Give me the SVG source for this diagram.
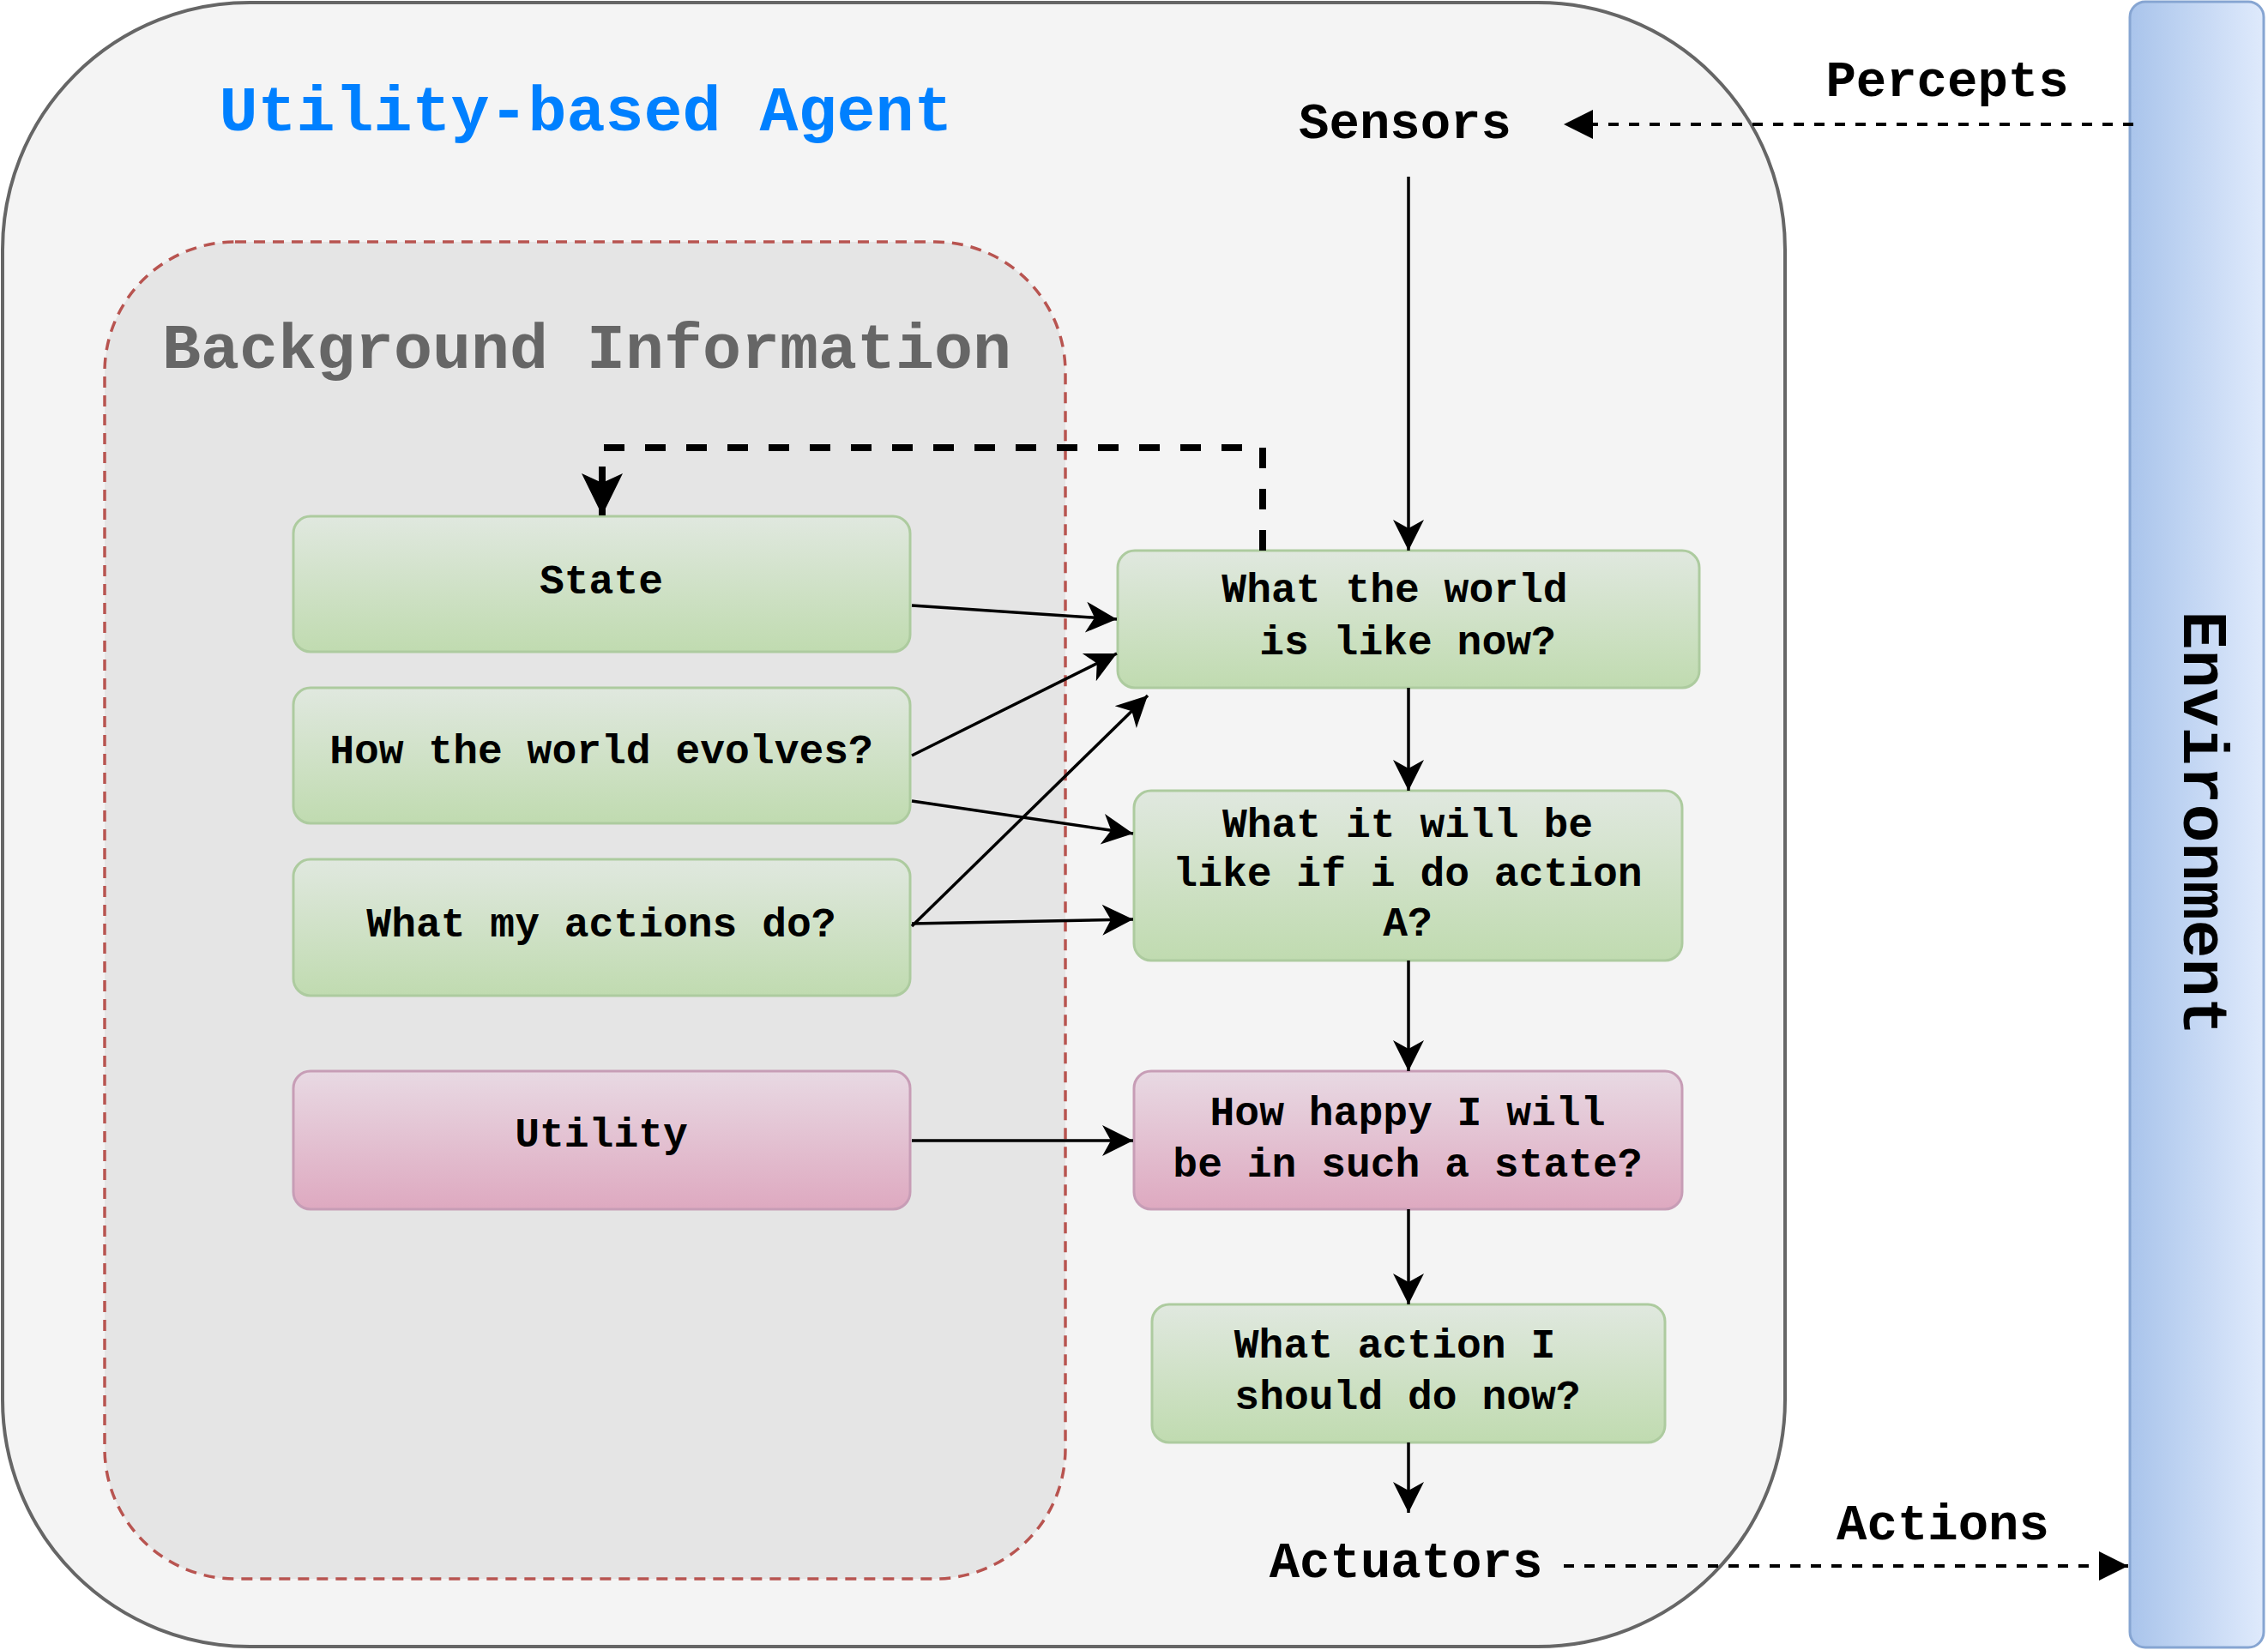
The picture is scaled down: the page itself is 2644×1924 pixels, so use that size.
<svg xmlns="http://www.w3.org/2000/svg" width="2644" height="1924" viewBox="0 0 2644 1924">
<style>
text{font-family:"Liberation Mono","DejaVu Sans Mono",monospace;font-weight:bold;text-anchor:middle;fill:#000}
.title{font-size:75px}
.lbl{font-size:59px}
.nt{font-size:48px}
.gnode{fill:url(#gGreen);stroke:#adcb9f;stroke-width:3}
.pnode{fill:url(#gPink);stroke:#c79db6;stroke-width:3}
.conn{fill:none;stroke:#000;stroke-width:3.5;marker-end:url(#arr)}
</style>
<defs>
<linearGradient id="gGreen" x1="0" y1="0" x2="0" y2="1"><stop offset="0" stop-color="#e0e8df"/><stop offset="1" stop-color="#c0dbb0"/></linearGradient>
<linearGradient id="gPink" x1="0" y1="0" x2="0" y2="1"><stop offset="0" stop-color="#e8d9e3"/><stop offset="1" stop-color="#dea9c0"/></linearGradient>
<linearGradient id="gEnv" x1="0" y1="0" x2="1" y2="0"><stop offset="0" stop-color="#a9c4eb"/><stop offset="1" stop-color="#dfeafc"/></linearGradient>
<marker id="arr" markerUnits="userSpaceOnUse" orient="auto" refX="0" refY="0" markerWidth="40" markerHeight="40" overflow="visible"><path d="M0,0 L-36,-18 L-26,0 L-36,18 Z" fill="#000"/></marker>
<marker id="arrBig" markerUnits="userSpaceOnUse" orient="auto" refX="0" refY="0" markerWidth="50" markerHeight="50" overflow="visible"><path d="M0,0 L-49,-24 L-38,0 L-49,24 Z" fill="#000"/></marker>
<marker id="tri" markerUnits="userSpaceOnUse" orient="auto" refX="0" refY="0" markerWidth="40" markerHeight="40" overflow="visible"><path d="M0,0 L-34,-17 L-34,17 Z" fill="#000"/></marker>
</defs>
<rect width="2644" height="1924" fill="#fff"/>
<g id="agent">
<rect x="3" y="3" width="2078" height="1917" rx="288" ry="288" fill="#f4f4f4" stroke="#666" stroke-width="4"/>
<text class="title" x="683" y="152" style="fill:#0080ff">Utility-based Agent</text>
</g>
<g id="background">
<rect x="122" y="282" width="1120" height="1559" rx="152" ry="152" fill="#e5e5e5" stroke="#b85450" stroke-width="3.5" stroke-dasharray="13 9"/>
<text class="title" x="684" y="429" style="fill:#666">Background Information</text>
</g>
<g id="environment">
<rect x="2483" y="2" width="156" height="1919" rx="18" ry="18" fill="url(#gEnv)" stroke="#86a5d2" stroke-width="3"/>
<text class="title" transform="translate(2546,960) rotate(90)">Environment</text>
</g>
<g id="sensors"><text class="lbl" x="1638" y="161">Sensors</text></g>
<g id="percepts"><text class="lbl" x="2270" y="112">Percepts</text></g>
<g id="actuators"><text class="lbl" x="1639" y="1839">Actuators</text></g>
<g id="actions"><text class="lbl" x="2265" y="1795">Actions</text></g>
<g id="state">
<rect class="gnode" x="342" y="602" width="719" height="158" rx="20"/>
<text class="nt" x="701" y="692">State</text>
</g>
<g id="evolves">
<rect class="gnode" x="342" y="802" width="719" height="158" rx="20"/>
<text class="nt" x="701" y="890">How the world evolves?</text>
</g>
<g id="myactions">
<rect class="gnode" x="342" y="1002" width="719" height="159" rx="20"/>
<text class="nt" x="701" y="1092">What my actions do?</text>
</g>
<g id="utility">
<rect class="pnode" x="342" y="1249" width="719" height="161" rx="20"/>
<text class="nt" x="701" y="1337">Utility</text>
</g>
<g id="worldnow">
<rect class="gnode" x="1303" y="642" width="678" height="160" rx="20"/>
<text class="nt"><tspan x="1626" y="702">What the world</tspan><tspan x="1641" y="763">is like now?</tspan></text>
</g>
<g id="willbe">
<rect class="gnode" x="1322" y="922" width="639" height="198" rx="20"/>
<text class="nt"><tspan x="1641" y="976">What it will be</tspan><tspan x="1641" y="1033">like if i do action</tspan><tspan x="1641" y="1091">A?</tspan></text>
</g>
<g id="happy">
<rect class="pnode" x="1322" y="1249" width="639" height="161" rx="20"/>
<text class="nt"><tspan x="1641" y="1312">How happy I will</tspan><tspan x="1641" y="1372">be in such a state?</tspan></text>
</g>
<g id="whataction">
<rect class="gnode" x="1343" y="1521" width="598" height="161" rx="20"/>
<text class="nt"><tspan x="1626" y="1583">What action I</tspan><tspan x="1641" y="1643">should do now?</tspan></text>
</g>
<g id="connectors">
<path class="conn" d="M1642,206 L1642,642"/>
<path class="conn" d="M1642,802 L1642,922"/>
<path class="conn" d="M1642,1120 L1642,1249"/>
<path class="conn" d="M1642,1410 L1642,1521"/>
<path class="conn" d="M1642,1682 L1642,1764"/>
<path class="conn" d="M1063,706 L1302,722"/>
<path class="conn" d="M1063,881 L1302,762"/>
<path class="conn" d="M1063,934 L1321,972"/>
<path class="conn" d="M1063,1077 L1321,1072"/>
<path class="conn" d="M1063,1080 L1338,811"/>
<path class="conn" d="M1063,1330 L1321,1330"/>
<path d="M1472,642 L1472,522 L702,522 L702,601" fill="none" stroke="#000" stroke-width="8" stroke-dasharray="24 24" marker-end="url(#arrBig)"/>
<path d="M2487,145 L1823,145" fill="none" stroke="#000" stroke-width="4" stroke-dasharray="12 12" marker-end="url(#tri)"/>
<path d="M1823,1826 L2481,1826" fill="none" stroke="#000" stroke-width="4" stroke-dasharray="12 12" marker-end="url(#tri)"/>
</g>
</svg>
